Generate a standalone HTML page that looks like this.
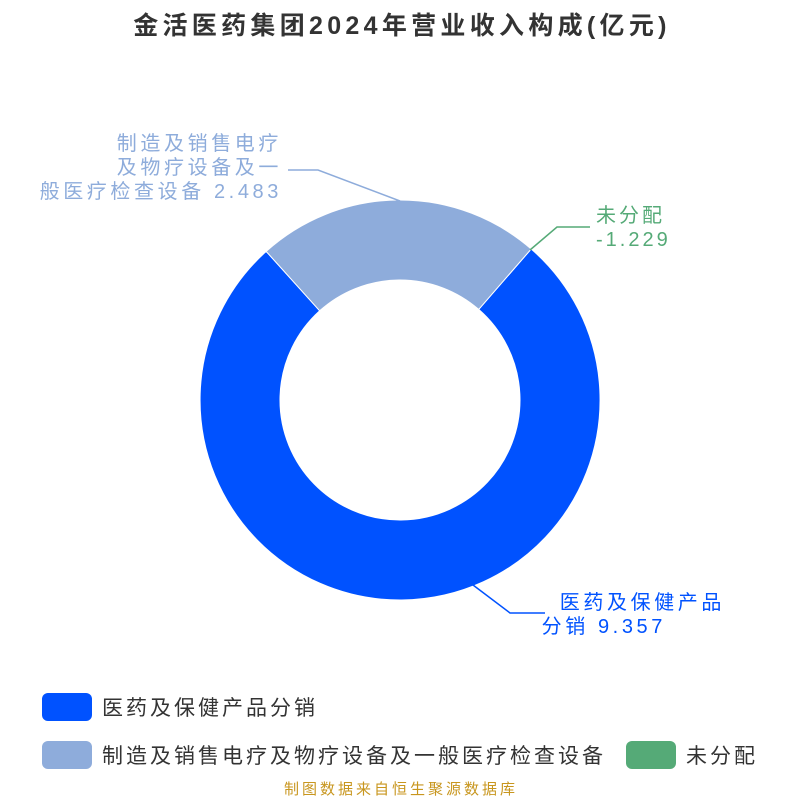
<!DOCTYPE html>
<html><head><meta charset="utf-8"><style>
body{margin:0;background:#fff;width:800px;height:800px;overflow:hidden}
svg text{font-family:"Liberation Sans","Noto Sans CJK SC",sans-serif}
</style></head><body>
<svg width="800" height="800" viewBox="0 0 800 800">
<text x="402" y="34" text-anchor="middle" font-size="25" font-weight="bold" fill="#333" letter-spacing="4.3">金活医药集团2024年营业收入构成(亿元)</text>
<path d="M531.2,249 A200,200 0 1 1 266.2,251.4 L319.7,310.8 A120,120 0 1 0 478.7,309.4 Z" fill="#0052ff" stroke="#fff" stroke-width="1"/>
<path d="M266.2,251.4 A200,200 0 0 1 531.2,249 L478.7,309.4 A120,120 0 0 0 319.7,310.8 Z" fill="#8eacdb" stroke="#fff" stroke-width="1"/>
<polyline points="400,201 318,170 288,170" fill="none" stroke="#8eacdb" stroke-width="1.5"/>
<text font-size="20" fill="#8eacdb" text-anchor="end" letter-spacing="3.6"><tspan x="282" y="150">制造及销售电疗</tspan><tspan x="282" y="174">及物疗设备及一</tspan><tspan x="282" y="198">般医疗检查设备 2.483</tspan></text>
<polyline points="530,250 557,227 590,227" fill="none" stroke="#55aa77" stroke-width="1.5"/>
<text font-size="20" fill="#55aa77" letter-spacing="3"><tspan x="596" y="222">未分配</tspan><tspan x="596" y="246">-1.229</tspan></text>
<polyline points="473,585 510,613 545,613" fill="none" stroke="#0052ff" stroke-width="1.5"/>
<text font-size="20" fill="#0052ff" text-anchor="end" letter-spacing="3.6"><tspan x="725" y="609">医药及保健产品</tspan><tspan x="666" y="633">分销 9.357</tspan></text>
<rect x="42" y="693" width="50" height="28" rx="6" fill="#0052ff"/>
<text x="102" y="715" font-size="21" fill="#333" letter-spacing="3">医药及保健产品分销</text>
<rect x="42" y="741" width="50" height="28" rx="6" fill="#8eacdb"/>
<text x="102" y="763" font-size="21" fill="#333" letter-spacing="3">制造及销售电疗及物疗设备及一般医疗检查设备</text>
<rect x="626" y="741" width="50" height="28" rx="6" fill="#55aa77"/>
<text x="686" y="763" font-size="21" fill="#333" letter-spacing="3">未分配</text>
<text x="401" y="794" text-anchor="middle" font-size="15" fill="#c8961e" letter-spacing="3">制图数据来自恒生聚源数据库</text>
</svg>
</body></html>
